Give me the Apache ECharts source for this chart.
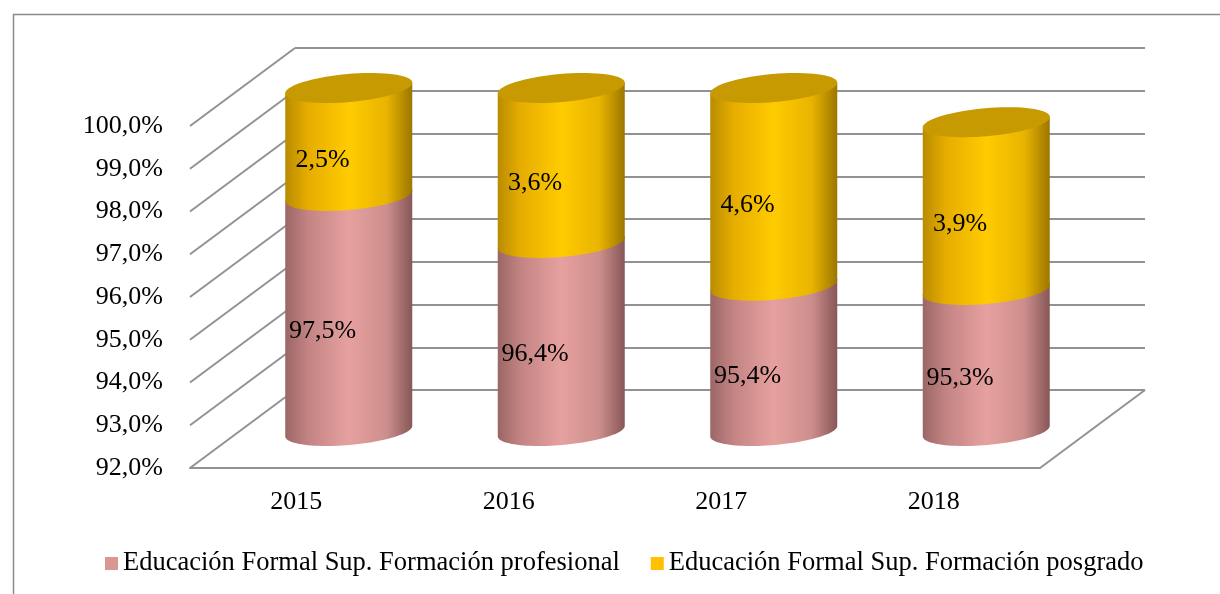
<!DOCTYPE html>
<html style="height: 100%">
<head>
  <meta charset="UTF-8">
  <title>Educación Formal Superior</title>
  <script src="https://cdn.jsdelivr.net/npm/echarts@6/dist/echarts.min.js"></script>
</head>
<body style="height: 100%; margin: 0; background: #fff">
<div id="main" style="width: 1220px; height: 594px"></div>

<script>
  // data
  const years = ['2015', '2016', '2017', '2018'];
  const profesional = [97.5, 96.4, 95.4, 95.3];
  const posgrado = [2.5, 3.6, 4.6, 3.9];
  const yTicks = [92, 93, 94, 95, 96, 97, 98, 99, 100];
  const seriesNames = [
    'Educación Formal Sup. Formación profesional',
    'Educación Formal Sup. Formación posgrado'
  ];

  const FONT = '"Liberation Serif", "Times New Roman", serif';
  const LINE = '#929292';
  // oblique depth of the 3D box (front wall -> back wall)
  const DX = 105, DY = -78;
  const TILT = -5 * Math.PI / 180;

  function fmt(v) {
    return v.toFixed(1).replace('.', ',') + '%';
  }

  // point on a tilted ellipse, t = PI/2 is the front (bottom)
  function ePt(cx, cy, rx, ry, t) {
    const c = Math.cos(TILT), s = Math.sin(TILT);
    const x = rx * Math.cos(t), y = ry * Math.sin(t);
    return [cx + x * c - y * s, cy + x * s + y * c];
  }

  function ePts(cx, cy, rx, ry, t0, t1, n) {
    const pts = [];
    for (let k = 0; k <= n; k++) {
      pts.push(ePt(cx, cy, rx, ry, t0 + (t1 - t0) * k / n));
    }
    return pts;
  }

  function cylinder(stops, capFill) {
    return function (params, api) {
      const i = api.value(0), lo = api.value(1), hi = api.value(2), lab = api.value(3);
      const pLo = api.coord([i, lo]);
      const pHi = api.coord([i, hi]);
      const rx = api.size([1, 0])[0] * 0.3;
      const ry = 14;
      const cx = pLo[0] + DX / 2;
      const yLo = pLo[1] + DY / 2 + 2;
      const yHi = pHi[1] + DY / 2 + 1;

      const body = [ePt(cx, yHi, rx, ry, Math.PI)]
        .concat(ePts(cx, yLo, rx, ry, Math.PI, 0, 48))
        .concat([ePt(cx, yHi, rx, ry, 0)]);

      const children = [{
        type: 'polygon',
        shape: { points: body },
        style: { fill: new echarts.graphic.LinearGradient(0, 0, 1, 0, stops) }
      }];
      if (capFill) {
        children.push({
          type: 'polygon',
          shape: { points: ePts(cx, yHi, rx, ry, 0, Math.PI * 2, 72) },
          style: { fill: capFill }
        });
      }
      children.push({
        type: 'text',
        x: pLo[0] + DX / 4,
        y: (pLo[1] + pHi[1]) / 2 + DY / 4,
        style: {
          text: fmt(lab),
          fill: '#000',
          font: '26px ' + FONT,
          align: 'center',
          verticalAlign: 'middle'
        }
      });
      return { type: 'group', children: children };
    };
  }

  // side diagonals of the box and the right edge of the floor
  function frameItem(params, api) {
    const y = api.coord([0, api.value(1)])[1];
    const cs = params.coordSys;
    const style = { stroke: LINE, lineWidth: 2 };
    const children = [{
      type: 'line',
      shape: { x1: cs.x, y1: y, x2: cs.x + DX, y2: y + DY },
      style: style
    }];
    if (params.dataIndex === 0) {
      const xr = cs.x + cs.width;
      children.push({
        type: 'line',
        shape: { x1: xr, y1: y, x2: xr + DX, y2: y + DY },
        style: style
      });
    }
    return { type: 'group', children: children };
  }

  const pinkStops = [
    { offset: 0, color: '#9c6666' },
    { offset: 0.18, color: '#c28483' },
    { offset: 0.5, color: '#e6a19f' },
    { offset: 0.8, color: '#cc8e8c' },
    { offset: 1, color: '#875757' }
  ];
  const yellowStops = [
    { offset: 0, color: '#b98b00' },
    { offset: 0.18, color: '#e6ad00' },
    { offset: 0.5, color: '#ffcb00' },
    { offset: 0.8, color: '#e8b400' },
    { offset: 1, color: '#9c7600' }
  ];

  const option = {
    animation: false,
    backgroundColor: '#fff',
    graphic: [{
      type: 'rect',
      left: 11,
      top: 12,
      shape: { width: 1240, height: 620 },
      style: { fill: 'none', stroke: '#8a8a8a', lineWidth: 1.5 },
      silent: true
    }],
    legend: {
      data: seriesNames,
      left: 100,
      top: 545,
      itemWidth: 13,
      itemHeight: 13,
      itemGap: 31,
      icon: 'rect',
      textStyle: { fontFamily: FONT, fontSize: 26.5, color: '#000' }
    },
    grid: [
      // front wall
      { left: 190, right: 180, top: 126, bottom: 126 },
      // back wall
      { left: 190 + DX, right: 180 - DX, top: 126 + DY, bottom: 126 - DY }
    ],
    xAxis: [
      {
        gridIndex: 0,
        type: 'category',
        data: years,
        axisLine: { lineStyle: { color: LINE, width: 2 } },
        axisTick: { show: false },
        axisLabel: { fontFamily: FONT, fontSize: 26, color: '#000', margin: 21 }
      },
      {
        gridIndex: 1,
        type: 'category',
        data: years,
        show: false
      }
    ],
    yAxis: [
      {
        gridIndex: 0,
        type: 'value',
        min: 92,
        max: 100,
        interval: 1,
        axisLine: { show: false },
        axisTick: { show: false },
        splitLine: { show: false },
        axisLabel: {
          fontFamily: FONT, fontSize: 26, color: '#000', margin: 27,
          formatter: fmt
        }
      },
      {
        gridIndex: 1,
        type: 'value',
        min: 92,
        max: 100,
        interval: 1,
        axisLine: { show: false },
        axisTick: { show: false },
        axisLabel: { show: false },
        splitLine: { lineStyle: { color: LINE, width: 2 } }
      }
    ],
    series: [
      {
        type: 'custom',
        xAxisIndex: 0,
        yAxisIndex: 0,
        silent: true,
        z: 1,
        renderItem: frameItem,
        data: yTicks.map(v => [0, v])
      },
      {
        name: seriesNames[0],
        type: 'custom',
        xAxisIndex: 0,
        yAxisIndex: 0,
        z: 3,
        itemStyle: { color: '#d99694' },
        renderItem: cylinder(pinkStops, null),
        data: years.map((y, i) => [i, yTicks[0], profesional[i], profesional[i]])
      },
      {
        name: seriesNames[1],
        type: 'custom',
        xAxisIndex: 0,
        yAxisIndex: 0,
        z: 3,
        itemStyle: { color: '#ffc000' },
        renderItem: cylinder(yellowStops, '#c69a00'),
        data: years.map((y, i) => [i, profesional[i], profesional[i] + posgrado[i], posgrado[i]])
      }
    ]
  };

  const chart = echarts.init(document.getElementById('main'));
  chart.setOption(option);
</script>
</body>
</html>
